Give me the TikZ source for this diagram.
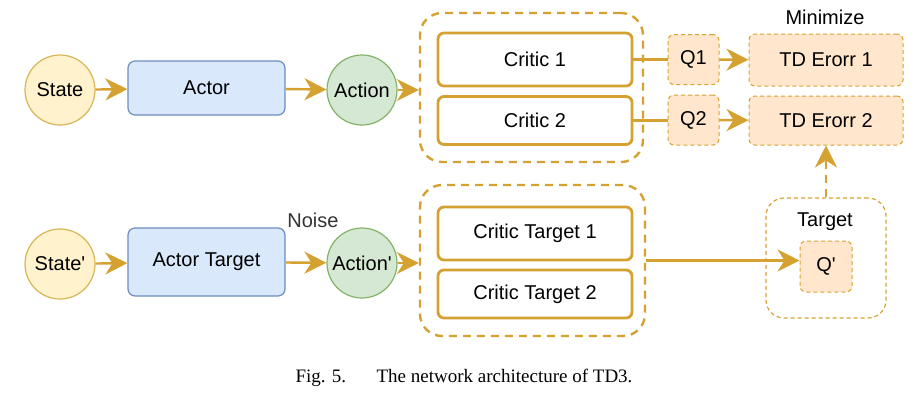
\documentclass[tikz,border=0pt]{standalone}
\usepackage{fontspec}
\setmainfont{Liberation Sans}[Ligatures=TeXOff]
\newfontfamily\capfont{Liberation Serif}
\usetikzlibrary{arrows.meta,positioning}
\definecolor{gold}{HTML}{D5A232}
\definecolor{statefill}{HTML}{FFF2CC}
\definecolor{stateline}{HTML}{D6B656}
\definecolor{actorfill}{HTML}{DAE8FC}
\definecolor{actorline}{HTML}{6C8EBF}
\definecolor{actionfill}{HTML}{D5E8D4}
\definecolor{actionline}{HTML}{82B366}
\definecolor{qfill}{HTML}{FFE6CC}
\begin{document}
\begin{tikzpicture}[x=0.5pt,y=-0.5pt,
  every node/.style={font=\fontsize{10}{12}\selectfont,inner sep=0pt},
  arr/.style={-{Stealth[length=11pt,width=11pt,inset=3.5pt]},line width=1.2pt,gold},
  statenode/.style={circle,draw=stateline,fill=statefill,minimum size=35pt,line width=0.6pt},
  actionnode/.style={circle,draw=actionline,fill=actionfill,minimum size=35pt,line width=0.6pt},
  actornode/.style={rectangle,rounded corners=3.5pt,draw=actorline,fill=actorfill,minimum width=78.5pt,line width=0.6pt},
  criticnode/.style={rectangle,rounded corners=3pt,draw=gold,line width=1.4pt,minimum width=97pt},
  group/.style={rectangle,rounded corners=11pt,draw=gold,line width=1.2pt,dash pattern=on 4pt off 3pt},
  qnode/.style={rectangle,rounded corners=3pt,draw=gold,fill=qfill,line width=0.5pt,dash pattern=on 2pt off 1.5pt}]
\useasboundingbox (0,0) rectangle (918,404);
% actor, top row
\node[statenode] (state) at (60,90) {State};
\node[actornode,minimum height=27pt] (actor) at (206.5,88) {Actor};
\node[actionnode] (action) at (362,90) {Action};
% critics
\node[group,minimum width=111.5pt,minimum height=74.5pt] (grpTop) at (531.5,87.5) {};
\node[criticnode,minimum height=26.5pt] (critic1) at (535,59.5) {Critic 1};
\node[criticnode,minimum height=24pt] (critic2) at (535,120.5) {Critic 2};
\node[qnode,minimum width=25.5pt,minimum height=25pt] (q1) at (693.5,59.5) {Q1};
\node[qnode,minimum width=25.5pt,minimum height=25pt] (q2) at (693.5,120) {Q2};
\node[qnode,minimum width=77pt,minimum height=26pt] (td1) at (826,60) {TD Erorr 1};
\node[qnode,minimum width=77pt,minimum height=24.5pt] (td2) at (826,120.5) {TD Erorr 2};
\node (minimize) at (825,17) {Minimize};
% target networks, bottom row
\node[statenode] (stateB) at (60,264) {State'};
\node[actornode,minimum height=34pt] (actorT) at (206.5,262) {Actor Target};
\node[actionnode] (actionB) at (362,263) {Action'};
\node[text=black!80] (noise) at (313,220) {Noise};
\node[group,minimum width=112.5pt,minimum height=75.5pt] (grpBot) at (532.5,260.5) {};
\node[criticnode,minimum height=26.5pt] (ct1) at (535,233.5) {Critic Target 1};
\node[criticnode,minimum height=24pt] (ct2) at (535,294) {Critic Target 2};
\node[rectangle,rounded corners=9pt,draw=gold,line width=0.6pt,dash pattern=on 2pt off 1.5pt,
  minimum width=60pt,minimum height=60pt] (target) at (826,258) {};
\node (targetlbl) at (825,222) {Target};
\node[qnode,minimum width=26pt,minimum height=25.5pt] (qp) at (826,266.5) {Q'};
% connectors
\draw[arr] (state) -- (actor);
\draw[arr] (actor) -- (action);
\draw[arr] (action) -- (action -| grpTop.west);
\draw[gold,line width=1.2pt] (critic1.east) -- (critic1.east -| q1.west);
\draw[gold,line width=1.2pt] (critic2.east) -- (critic2.east -| q2.west);
\draw[arr] (q1) -- (td1);
\draw[arr] (q2) -- (td2);
\draw[arr] (stateB) -- (actorT);
\draw[arr] (actorT) -- (actionB);
\draw[arr] (actionB) -- (actionB -| grpBot.west);
\draw[arr] (grpBot.east) -- (grpBot.east -| qp.west);
\draw[arr,dash pattern=on 4pt off 3pt] (target.north) -- (td2.south);
% caption
\node[font=\capfont\fontsize{9.5}{11}\selectfont] (caption) at (464,378) {Fig. 5.\hspace{1.6em}The network architecture of TD3.};
\end{tikzpicture}
\end{document}
